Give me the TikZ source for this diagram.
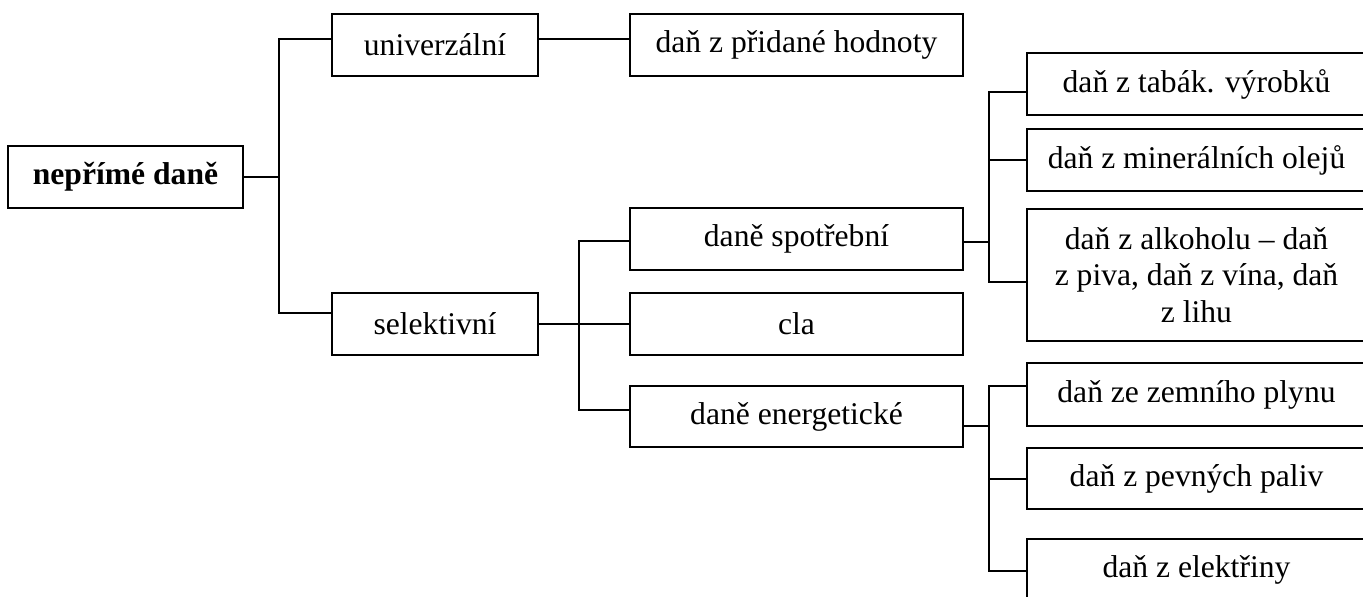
\documentclass[tikz,border=0pt]{standalone}
\usepackage{fontspec}
\setmainfont{Liberation Serif}
\begin{document}
\begin{tikzpicture}[x=0.75pt,y=-0.75pt,
  box/.style={draw, line width=1.1pt, rectangle, inner sep=0pt, align=center,
    minimum height=46.5pt, font=\fontsize{23.7}{27.5}\selectfont},
  lvlone/.style={box, minimum width=154.5pt},
  lvltwo/.style={box, minimum width=249.75pt},
  lvlthree/.style={box, minimum width=254.25pt},
  conn/.style={line width=1.1pt}]
\useasboundingbox (0,0) rectangle (1363,596);
% nodes
\node[box, minimum width=176.25pt, font=\fontsize{23.7}{27.5}\selectfont\bfseries] (root) at (125.5,177) {nepřímé daně};
\node[lvlone] (univ) at (435,45) {univerzální};
\node[lvlone] (sel) at (435,324) {selektivní};
\node[lvltwo] (dph) at (796.5,45) {daň z přidané hodnoty};
\node[lvltwo] (spot) at (796.5,239) {daně spotřební};
\node[lvltwo] (cla) at (796.5,324) {cla};
\node[lvltwo, minimum height=45.75pt] (energ) at (796.5,416.5) {daně energetické};
\node[lvlthree] (tabak) at (1196.5,84) {daň z tabák. výrobků};
\node[lvlthree] (miner) at (1196.5,160) {daň z minerálních olejů};
\node[lvlthree, minimum height=99pt] (alko) at (1196.5,275) {daň z alkoholu – daň\\z piva, daň z vína, daň\\z lihu};
\node[lvlthree, minimum height=47.25pt] (zemni) at (1196.5,394.5) {daň ze zemního plynu};
\node[lvlthree, minimum height=45.75pt] (pevne) at (1196.5,478.5) {daň z pevných paliv};
\node[lvlthree] (elek) at (1196.5,570) {daň z elektřiny};
% trunk coordinates
\coordinate (t1top) at (279,39);
\coordinate (t1bot) at (279,313);
\coordinate (t2top) at (579,241);
\coordinate (t2bot) at (579,410);
\coordinate (t3top) at (989,92);
\coordinate (t3mid) at (989,160);
\coordinate (t3bot) at (989,282);
\coordinate (t3in) at (989,242);
\coordinate (t4top) at (989,386);
\coordinate (t4mid) at (989,479);
\coordinate (t4bot) at (989,571);
\coordinate (t4in) at (989,426);
% connectors level 1
\draw[conn] (root.east) -- (root.east -| t1top);
\draw[conn] (t1top -| univ.west) -- (t1top) -- (t1bot) -- (t1bot -| sel.west);
\draw[conn] ([yshift=4.5pt]univ.east) -- ([yshift=4.5pt]dph.west);
% level 2
\draw[conn] (sel.east) -- (cla.west);
\draw[conn] (t2top -| spot.west) -- (t2top) -- (t2bot) -- (t2bot -| energ.west);
% level 3 spotrebni
\draw[conn] (t3in -| spot.east) -- (t3in);
\draw[conn] (t3top -| tabak.west) -- (t3top) -- (t3bot) -- (t3bot -| alko.west);
\draw[conn] (t3mid) -- (t3mid -| miner.west);
% level 3 energeticke
\draw[conn] (t4in -| energ.east) -- (t4in);
\draw[conn] (t4top -| zemni.west) -- (t4top) -- (t4bot) -- (t4bot -| elek.west);
\draw[conn] (t4mid) -- (t4mid -| pevne.west);
\end{tikzpicture}
\end{document}
